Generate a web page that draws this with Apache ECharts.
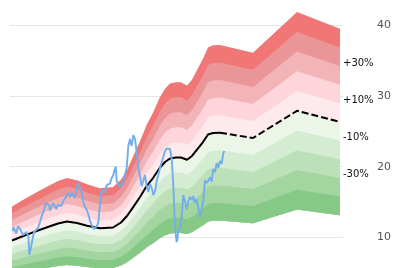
<!DOCTYPE html>
<html>
<head>
<meta charset="utf-8">
<style>
html,body{margin:0;padding:0;background:#fff;}
#chart{width:402px;height:268px;}
</style>
<script src="https://cdn.jsdelivr.net/npm/echarts@6/dist/echarts.min.js"></script>
</head>
<body>
<div id="chart"></div>
<script>
// Fair-value (central) line: decimal years and values
const fvYears = [2016.05, 2016.30, 2016.575, 2016.875, 2017.20, 2017.425, 2017.675, 2017.925, 2018.25, 2018.575,
  2018.775, 2018.925, 2019.075, 2019.25, 2019.425, 2019.575, 2019.75, 2019.875, 2020.00, 2020.15,
  2020.275, 2020.425, 2020.55, 2020.675, 2020.825, 2020.95, 2021.075, 2021.25, 2022.075, 2023.175, 2024.25];
const fvValues = [9.58, 10.14, 10.73, 11.34, 11.98, 12.26, 12.05, 11.67, 11.30, 11.41,
  12.12, 13.03, 14.26, 15.72, 17.34, 18.40, 19.88, 20.66, 21.15, 21.29,
  21.29, 20.97, 21.51, 22.42, 23.48, 24.54, 24.75, 24.79, 24.05, 27.89, 26.31];
const forecastStart = 27; // index where the dashed projection begins

// Price line
const priceYears = [2016.0625, 2016.0875, 2016.125, 2016.1575, 2016.2, 2016.25, 2016.2925, 2016.325, 2016.375, 2016.4125,
  2016.4625, 2016.4825, 2016.5125, 2016.55, 2016.60, 2016.65, 2016.70, 2016.75, 2016.7925, 2016.825,
  2016.8675, 2016.90, 2016.9375, 2016.975, 2017.00, 2017.0325, 2017.075, 2017.1175, 2017.1575, 2017.20,
  2017.25, 2017.2825, 2017.3325, 2017.375, 2017.4175, 2017.4575, 2017.50, 2017.5425, 2017.5825, 2017.625,
  2017.6675, 2017.7075, 2017.75, 2017.7925, 2017.8325, 2017.875, 2017.9175, 2017.9575, 2018.00, 2018.0575,
  2018.10, 2018.1375, 2018.1675, 2018.2075, 2018.25, 2018.2925, 2018.3325, 2018.375, 2018.4175, 2018.4575,
  2018.50, 2018.5425, 2018.5825, 2018.6075, 2018.6425, 2018.6675, 2018.7075, 2018.75, 2018.7925, 2018.8325,
  2018.8575, 2018.9175, 2018.9575, 2019.00, 2019.0425, 2019.0825, 2019.125, 2019.1675, 2019.2075, 2019.25,
  2019.2925, 2019.3325, 2019.375, 2019.4175, 2019.4575, 2019.50, 2019.5425, 2019.5825, 2019.625, 2019.6675,
  2019.7075, 2019.75, 2019.7925, 2019.8325, 2019.875, 2019.9175, 2019.9575, 2020.00, 2020.0425, 2020.0675,
  2020.0875, 2020.1075, 2020.125, 2020.15, 2020.1675, 2020.1875, 2020.2075, 2020.25, 2020.2925, 2020.3325,
  2020.375, 2020.4175, 2020.4575, 2020.50, 2020.5425, 2020.5825, 2020.625, 2020.6675, 2020.7075, 2020.75,
  2020.7925, 2020.8325, 2020.875, 2020.9175, 2020.9575, 2021.00, 2021.0425, 2021.0825, 2021.125, 2021.1675,
  2021.2075, 2021.25, 2021.2925, 2021.3325, 2021.3625];
const priceValues = [10.92, 11.48, 11.62, 10.56, 11.62, 11.20, 11.13, 10.35, 10.07, 10.78,
  10.07, 7.53, 8.24, 9.36, 10.78, 11.06, 11.34, 12.19, 13.03, 13.46,
  14.31, 14.87, 15.01, 14.59, 13.81, 13.74, 14.87, 14.45, 14.02, 14.59,
  14.87, 14.45, 15.15, 15.01, 15.86, 16.28, 15.72, 16.28, 16.00, 15.58,
  17.13, 17.62, 16.99, 16.42, 15.01, 14.31, 13.88, 13.32, 12.33, 11.62,
  11.20, 11.06, 11.62, 12.05, 14.73, 16.71, 16.49, 16.28, 17.41, 17.27,
  17.62, 18.40, 18.82, 19.39, 20.02, 17.98, 17.76, 17.13, 17.27, 17.84,
  18.12, 19.81, 22.92, 23.91, 22.92, 24.47, 23.91, 22.07, 19.81, 18.68,
  17.27, 17.98, 18.82, 17.27, 16.42, 17.55, 16.99, 16.00, 16.56, 17.98,
  18.82, 19.81, 20.66, 21.36, 22.21, 22.56, 22.35, 22.49, 21.08, 18.82,
  16.71, 13.88, 11.76, 10.07, 9.36, 9.79, 10.92, 11.48, 12.89, 16.00,
  15.15, 14.02, 15.15, 15.72, 15.29, 15.86, 14.87, 15.43, 14.16, 12.89,
  12.61, 15.15, 18.12, 17.69, 17.98, 18.54, 17.84, 19.67, 19.25, 20.52,
  19.81, 20.80, 20.38, 21.93, 22.21];

// Bands: relative offsets from the central line (bottom to top)
const bandBase = -0.5;
const bandStep = 0.1;
const bandColors = ['#86c986', '#a2d5a0', '#bce1b9', '#d4ecd1', '#ebf6e9',
                    '#fee9ec', '#fdd5da', '#f3b4b7', '#ea9597', '#f17676'];
const bandLabels = ['', '-30%', '', '-10%', '', '+10%', '', '+30%', '', ''];

// Y ticks
const yTicks = [10, 20, 30, 40];

// decimal year -> timestamp
const T0 = Date.UTC(2016, 0, 1);
const YEAR_MS = 365.25 * 864e5;
const ts = y => T0 + (y - 2016) * YEAR_MS;

const series = [];
// Each band k is drawn as one area from the lowest edge up to its own upper edge;
// the widest (top) one first, narrower ones painted over it.
for (let k = bandColors.length - 1; k >= 0; k--) {
  const stackId = 'band' + k;
  series.push({
    type: 'line', stack: stackId, symbol: 'none', silent: true,
    lineStyle: { width: 1, opacity: 0 },
    data: fvYears.map((x, i) => [ts(x), fvValues[i] * (1 + bandBase)]),
    z: 1
  });
  const s = {
    type: 'line', stack: stackId, symbol: 'none', silent: true,
    lineStyle: { width: 1, opacity: 0 },
    areaStyle: { color: bandColors[k], opacity: 1 },
    data: fvYears.map((x, i) => [ts(x), fvValues[i] * bandStep * (k + 1)]),
    z: 1
  };
  if (bandLabels[k]) {
    s.endLabel = {
      show: true, formatter: bandLabels[k], distance: 3, offset: [0, -3],
      color: '#111', fontSize: 10, fontFamily: 'DejaVu Sans'
    };
  }
  series.push(s);
}
series.push({
  type: 'line', symbol: 'none', silent: true, z: 3,
  lineStyle: { color: '#000', width: 2 },
  data: fvYears.slice(0, forecastStart + 1).map((x, i) => [ts(x), fvValues[i]])
});
series.push({
  type: 'line', symbol: 'none', silent: true, z: 3,
  lineStyle: { color: '#000', width: 2, type: [7, 3] },
  data: fvYears.slice(forecastStart).map((x, i) => [ts(x), fvValues[i + forecastStart]])
});
series.push({
  type: 'line', symbol: 'none', silent: true, z: 4,
  lineStyle: { color: '#74aeea', width: 1.9 },
  data: priceYears.map((x, i) => [ts(x), priceValues[i]])
});

const chart = echarts.init(document.getElementById('chart'), null, { renderer: 'canvas' });
chart.setOption({
  animation: false,
  grid: { left: 10, right: 59, top: 0, bottom: 0, containLabel: false },
  xAxis: {
    type: 'time', min: ts(2016), max: ts(2024.325),
    axisLine: { show: false }, axisTick: { show: false },
    axisLabel: { show: false }, splitLine: { show: false }
  },
  yAxis: {
    type: 'value', position: 'right', min: 5.694, max: 43.53,
    axisLine: { show: false },
    axisTick: { show: false, customValues: yTicks },
    axisLabel: {
      margin: 34, color: '#555', fontSize: 11, fontFamily: 'DejaVu Sans',
      customValues: yTicks
    },
    splitLine: { show: true, lineStyle: { color: '#e6e6e6', width: 1 } }
  },
  series: series
});
</script>
</body>
</html>
